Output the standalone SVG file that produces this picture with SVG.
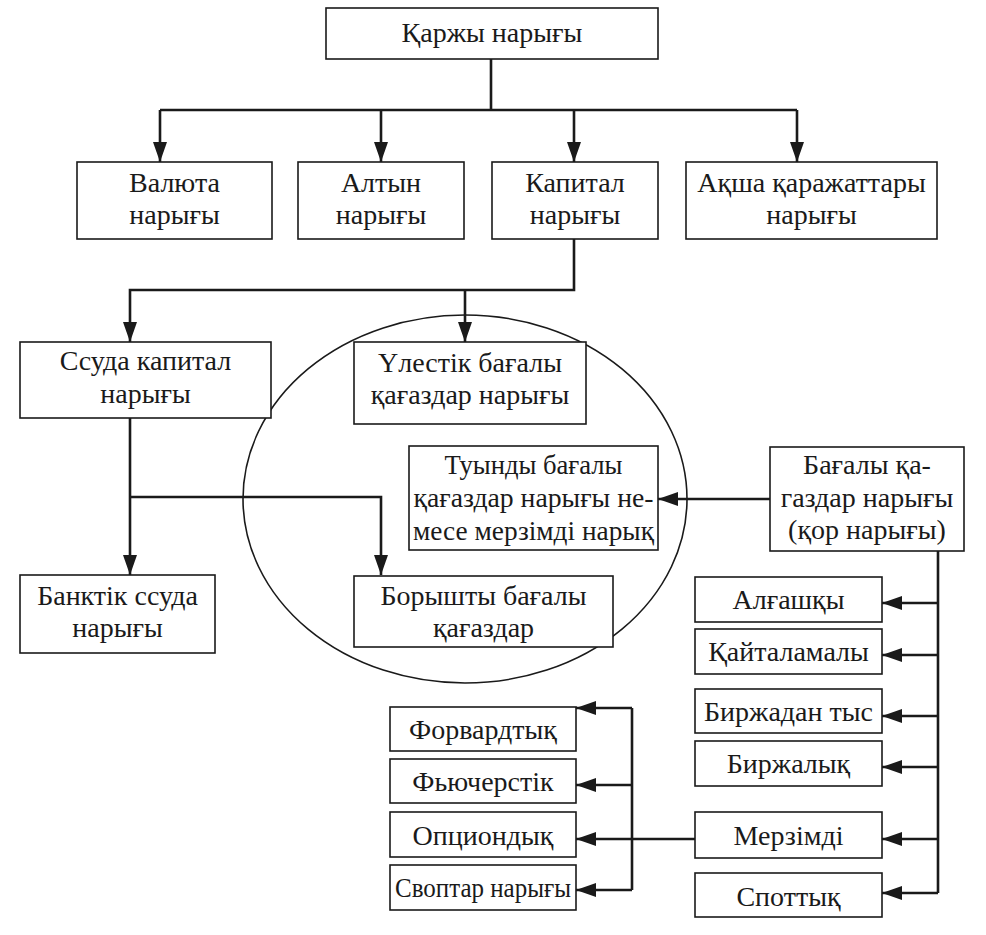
<svg xmlns="http://www.w3.org/2000/svg" width="986" height="935" viewBox="0 0 986 935">
<style>
.box{fill:#fff;stroke:#1a1a1a;stroke-width:1.6}
.t{font-family:"Liberation Serif","DejaVu Serif",serif;font-size:28px;fill:#1a1a1a;text-anchor:middle}
.c{fill:none;stroke:#1a1a1a;stroke-width:2.6}
.ca{fill:none;stroke:#1a1a1a;stroke-width:2.6;marker-end:url(#ah)}
</style>
<defs>
<marker id="ah" markerUnits="userSpaceOnUse" markerWidth="20" markerHeight="14" refX="20" refY="7" orient="auto">
<path d="M0,0 L20,7 L0,14 Z" fill="#1a1a1a"/>
</marker>
</defs>
<rect width="986" height="935" fill="#fff"/>
<ellipse cx="465" cy="499" rx="222" ry="184" fill="none" stroke="#1a1a1a" stroke-width="1.6"/>
<g id="connectors">
<path class="c" d="M491,59 V110 M160,110 H797"/>
<path class="ca" d="M160,110 V162"/>
<path class="ca" d="M381,110 V162"/>
<path class="ca" d="M574,110 V162"/>
<path class="ca" d="M797,110 V162"/>
<path class="ca" d="M574,239 V290 H130 V342"/>
<path class="ca" d="M465,290 V342"/>
<path class="ca" d="M130,418 V575"/>
<path class="ca" d="M130,497 H381 V575"/>
<path class="ca" d="M770,499 H658"/>
<path class="c" d="M938,551 V893"/>
<path class="ca" d="M938,603 H882"/>
<path class="ca" d="M938,655 H882"/>
<path class="ca" d="M938,716 H882"/>
<path class="ca" d="M938,767 H882"/>
<path class="ca" d="M938,839 H882"/>
<path class="ca" d="M938,893 H882"/>
<path class="ca" d="M695,839 H576"/>
<path class="c" d="M632,708 V890"/>
<path class="ca" d="M632,708 H576"/>
<path class="ca" d="M632,785 H576"/>
<path class="ca" d="M632,890 H576"/>
</g>
<g id="n-karzhy"><rect class="box" x="326" y="8" width="332" height="51"/><text class="t" x="492" y="42">Қаржы нарығы</text></g>
<g id="n-valyuta"><rect class="box" x="77" y="162" width="195" height="77"/><text class="t" x="174.5" y="192">Валюта</text><text class="t" x="174.5" y="224">нарығы</text></g>
<g id="n-altyn"><rect class="box" x="298" y="162" width="166" height="77"/><text class="t" x="381" y="192">Алтын</text><text class="t" x="381" y="224">нарығы</text></g>
<g id="n-kapital"><rect class="box" x="492" y="162" width="166" height="77"/><text class="t" x="575" y="192">Капитал</text><text class="t" x="575" y="224">нарығы</text></g>
<g id="n-aksha"><rect class="box" x="686" y="162" width="251" height="77"/><text class="t" x="811.5" y="192">Ақша қаражаттары</text><text class="t" x="811.5" y="224">нарығы</text></g>
<g id="n-ssuda"><rect class="box" x="20" y="342" width="251" height="76"/><text class="t" x="145.5" y="370">Ссуда капитал</text><text class="t" x="145.5" y="403">нарығы</text></g>
<g id="n-ulestik"><rect class="box" x="354" y="342" width="232" height="82"/><text class="t" x="470" y="372">Үлестік бағалы</text><text class="t" x="470" y="404">қағаздар нарығы</text></g>
<g id="n-tuyndy"><rect class="box" x="409" y="446" width="249" height="104"/><text class="t" x="533.5" y="474" textLength="178" lengthAdjust="spacingAndGlyphs">Туынды бағалы</text><text class="t" x="533.5" y="507" textLength="240" lengthAdjust="spacingAndGlyphs">қағаздар нарығы  не-</text><text class="t" x="533.5" y="540" textLength="241" lengthAdjust="spacingAndGlyphs">месе мерзімді нарық</text></g>
<g id="n-bagaly"><rect class="box" x="770" y="447" width="194" height="104"/><text class="t" x="867" y="474">Бағалы қа-</text><text class="t" x="867" y="507">газдар нарығы</text><text class="t" x="867" y="539">(қор нарығы)</text></g>
<g id="n-banktik"><rect class="box" x="20" y="575" width="195" height="78"/><text class="t" x="117.5" y="605">Банктік ссуда</text><text class="t" x="117.5" y="637">нарығы</text></g>
<g id="n-boryshty"><rect class="box" x="354" y="576" width="259" height="71"/><text class="t" x="483.5" y="605">Борышты бағалы</text><text class="t" x="483.5" y="637">қағаздар</text></g>
<g id="n-algashky"><rect class="box" x="695" y="577" width="187" height="45"/><text class="t" x="788.5" y="609">Алғашқы</text></g>
<g id="n-kaitalamaly"><rect class="box" x="695" y="629" width="187" height="45"/><text class="t" x="788.5" y="661">Қайталамалы</text></g>
<g id="n-birzhadan"><rect class="box" x="695" y="689" width="187" height="44"/><text class="t" x="788.5" y="721">Биржадан тыс</text></g>
<g id="n-birzhalyk"><rect class="box" x="695" y="741" width="187" height="45"/><text class="t" x="788.5" y="773">Биржалық</text></g>
<g id="n-merzimdi"><rect class="box" x="695" y="812" width="187" height="46"/><text class="t" x="788.5" y="845">Мерзімді</text></g>
<g id="n-spottyk"><rect class="box" x="695" y="873" width="187" height="44"/><text class="t" x="788.5" y="906">Споттық</text></g>
<g id="n-forvard"><rect class="box" x="390" y="707" width="186" height="44"/><text class="t" x="483" y="739">Форвардтық</text></g>
<g id="n-fyuchers"><rect class="box" x="390" y="759" width="186" height="44"/><text class="t" x="483" y="791">Фьючерстік</text></g>
<g id="n-option"><rect class="box" x="390" y="812" width="186" height="45"/><text class="t" x="483" y="845">Опциондық</text></g>
<g id="n-svop"><rect class="box" x="390" y="865" width="186" height="45"/><text class="t" x="483" y="897" textLength="176" lengthAdjust="spacingAndGlyphs">Своптар нарығы</text></g>
</svg>
